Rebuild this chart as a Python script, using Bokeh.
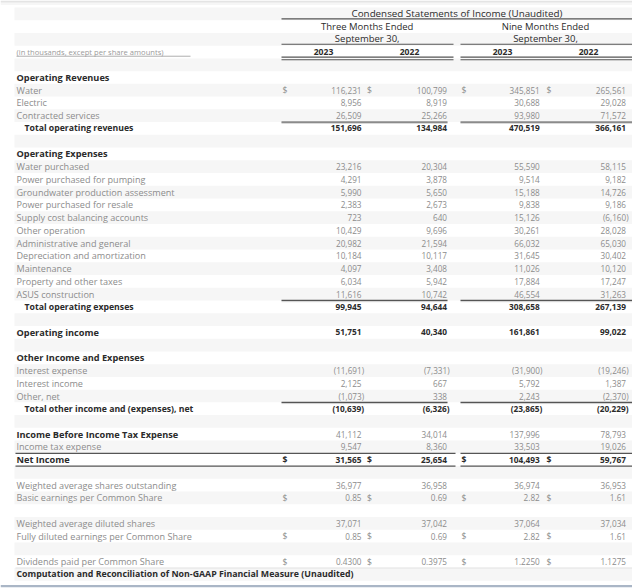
from bokeh.plotting import figure
from bokeh.models import Range1d, ColumnDataSource
from bokeh.embed import file_html
from bokeh.resources import INLINE
from bokeh.core.properties import value

# ---------------- data ----------------
title = "Condensed Statements of Income (Unaudited)"
group_titles = ["Three Months Ended", "Nine Months Ended"]
group_sub = "September 30,"
year_labels = ["2023", "2022", "2023", "2022"]
units_note = "(in thousands, except per share amounts)"

labels = [
    "Operating Revenues", "Water", "Electric", "Contracted services", "Total operating revenues", "",
    "Operating Expenses", "Water purchased", "Power purchased for pumping",
    "Groundwater production assessment", "Power purchased for resale", "Supply cost balancing accounts",
    "Other operation", "Administrative and general", "Depreciation and amortization", "Maintenance",
    "Property and other taxes", "ASUS construction", "Total operating expenses", "",
    "Operating income", "",
    "Other Income and Expenses", "Interest expense", "Interest income", "Other, net",
    "Total other income and (expenses), net", "",
    "Income Before Income Tax Expense", "Income tax expense", "Net Income", "",
    "Weighted average shares outstanding", "Basic earnings per Common Share", "",
    "Weighted average diluted shares", "Fully diluted earnings per Common Share", "",
    "Dividends paid per Common Share",
    "Computation and Reconciliation of Non-GAAP Financial Measure (Unaudited)",
]
# row kinds: s=section heading, i=item, t=total, b=blank, o=bold heading with bold values,
#            h=heading with regular values, n=net income, f=footer heading
kinds = ["s", "i", "i", "i", "t", "b",
         "s", "i", "i", "i", "i", "i", "i", "i", "i", "i", "i", "i", "t", "b",
         "o", "b",
         "s", "i", "i", "i", "t", "b",
         "h", "i", "n", "b",
         "i", "i", "b",
         "i", "i", "b",
         "i", "f"]
N = None
q3_2023 = [N, 116231, 8956, 26509, 151696, N,
           N, 23216, 4291, 5990, 2383, 723, 10429, 20982, 10184, 4097, 6034, 11616, 99945, N,
           51751, N,
           N, -11691, 2125, -1073, -10639, N,
           41112, 9547, 31565, N,
           36977, 0.85, N,
           37071, 0.85, N,
           0.4300, N]
q3_2022 = [N, 100799, 8919, 25266, 134984, N,
           N, 20304, 3878, 5650, 2673, 640, 9696, 21594, 10117, 3408, 5942, 10742, 94644, N,
           40340, N,
           N, -7331, 667, 338, -6326, N,
           34014, 8360, 25654, N,
           36958, 0.69, N,
           37042, 0.69, N,
           0.3975, N]
m9_2023 = [N, 345851, 30688, 93980, 470519, N,
           N, 55590, 9514, 15188, 9838, 15126, 30261, 66032, 31645, 11026, 17884, 46554, 308658, N,
           161861, N,
           N, -31900, 5792, 2243, -23865, N,
           137996, 33503, 104493, N,
           36974, 2.82, N,
           37064, 2.82, N,
           1.2250, N]
m9_2022 = [N, 265561, 29028, 71572, 366161, N,
           N, 58115, 9182, 14726, 9186, -6160, 28028, 65030, 30402, 10120, 17247, 31263, 267139, N,
           99022, N,
           N, -19246, 1387, -2370, -20229, N,
           78793, 19026, 59767, N,
           36953, 1.61, N,
           37034, 1.61, N,
           1.1275, N]
decimals = [0] * 33 + [2, 0, 0, 2, 0, 4, 0]
dollar_rows = [1, 30, 33, 36, 38]
rule_after = [3, 17, 25, 29, 30, 38]

# ---------------- layout / style ----------------
ROW0 = 77.0
PITCH = 12.74
X0, X1 = 0, 632
Y0, Y1 = 0, 588
LABEL_X, TOTAL_X = 16, 24
VAL_RIGHT = [361, 446.5, 539.3, 625.5]
DOLLAR_X = [282, 366.5, 461, 546]
SEGS = [(281, 447), (460, 632)]
HEAD_SEGS = [(281, 453), (460, 632)]
YEAR_CX = [323, 409, 502, 588]
GROUP_CX = [366.7, 545]
STRIPE = "#f6f6f6"
GREY_TXT = "#8c8c8c"
DARK_TXT = "#2b2b2b"
FONT = "Open Sans"
LABEL_SIZE = {"s": "9.2px", "o": "9.2px", "h": "9.2px", "n": "9.2px", "t": "8.7px",
              "f": "8.8px", "i": "9.1px"}


def ry(i):
    return ROW0 + PITCH * i


def fmt(v, d):
    if v is None:
        return ""
    s = f"{abs(v):,.{d}f}"
    return f"({s})" if v < 0 else s


p = figure(width=X1 - X0, height=Y1 - Y0, x_range=Range1d(X0, X1), y_range=Range1d(Y1, Y0),
           output_backend="svg", toolbar_location=None, min_border=0)
p.axis.visible = False
p.grid.visible = False
p.outline_line_color = None
p.background_fill_color = "white"
p.border_fill_color = "white"

# top page shadow and bottom frame band
p.quad(left=[0, 0, 0], right=[632] * 3, top=[0, 1.5, 3], bottom=[1.5, 3, 4.5],
       fill_color=["#e4e4e4", "#eeeeee", "#f6f6f6"], line_color=None)
p.quad(left=[0, 0], right=[632, 632], top=[584.5, 586.5], bottom=[586.5, 588],
       fill_color=["#aab6c6", "#e9edf2"], line_color=None)

# stripes
rows_all = list(range(-5, len(labels)))
odd = [i for i in rows_all if i % 2 != 0]
p.quad(left=[14] * len(odd), right=[632] * len(odd),
       top=[ry(i) - PITCH / 2 for i in odd], bottom=[ry(i) + PITCH / 2 for i in odd],
       fill_color=STRIPE, line_color=None)

# header texts
p.text(x=[(HEAD_SEGS[0][0] + HEAD_SEGS[1][1]) / 2], y=[ry(-5) - 0.3], text=[title],
       text_font=value(FONT), text_font_size="9.8px", text_color=DARK_TXT,
       text_align="center", text_baseline="middle")
p.text(x=GROUP_CX, y=[ry(-4) - 0.3] * 2, text=group_titles,
       text_font=value(FONT), text_font_size="9.5px", text_color=DARK_TXT,
       text_align="center", text_baseline="middle")
p.text(x=GROUP_CX, y=[ry(-3) - 1.0] * 2, text=[group_sub] * 2,
       text_font=value(FONT), text_font_size="9.5px", text_color=DARK_TXT,
       text_align="center", text_baseline="middle")
p.text(x=YEAR_CX, y=[ry(-2)] * 4, text=year_labels,
       text_font=value(FONT), text_font_size="8.6px", text_color=DARK_TXT,
       text_align="center", text_baseline="middle", text_font_style="bold")
p.text(x=[LABEL_X], y=[ry(-2)], text=[units_note],
       text_font=value(FONT), text_font_size="7.6px", text_color="#9a9a9a",
       text_align="left", text_baseline="middle")
p.segment(x0=[LABEL_X], x1=[190], y0=[ry(-2) + 4.2], y1=[ry(-2) + 4.2],
          line_color="#9a9a9a", line_width=0.8)

# header rules
p.segment(x0=[HEAD_SEGS[0][0]], x1=[HEAD_SEGS[1][1]], y0=[18.4], y1=[18.4],
          line_color="#555555", line_width=1.1)
p.segment(x0=[a for a, b in HEAD_SEGS], x1=[b for a, b in HEAD_SEGS],
          y0=[43.8] * 2, y1=[43.8] * 2, line_color="#555555", line_width=1.1)
p.segment(x0=[a for a, b in HEAD_SEGS] * 2, x1=[b for a, b in HEAD_SEGS] * 2,
          y0=[56.6] * 2 + [59.2] * 2, y1=[56.6] * 2 + [59.2] * 2,
          line_color="#555555", line_width=1.1)

# labels
lab_src = {"x": [], "y": [], "t": [], "c": [], "st": [], "fs": []}
for i, (lab, k) in enumerate(zip(labels, kinds)):
    if k == "b":
        continue
    lab_src["x"].append(TOTAL_X if k == "t" else LABEL_X)
    lab_src["y"].append(ry(i))
    lab_src["t"].append(lab)
    bold = k != "i"
    lab_src["c"].append(DARK_TXT if bold else GREY_TXT)
    lab_src["st"].append("bold" if bold else "normal")
    lab_src["fs"].append(LABEL_SIZE[k])
p.text(x="x", y="y", text="t", text_color="c", text_font_style="st", text_font_size="fs",
       source=ColumnDataSource(lab_src), text_font=value(FONT),
       text_align="left", text_baseline="middle")

# values
cols = [q3_2023, q3_2022, m9_2023, m9_2022]
val_src = {"x": [], "y": [], "t": [], "c": [], "st": [], "fs": []}
for ci, col in enumerate(cols):
    for i, v in enumerate(col):
        if v is None:
            continue
        k = kinds[i]
        bold = k in ("t", "o", "n")
        val_src["x"].append(VAL_RIGHT[ci] + (2.6 if v < 0 else 0))
        val_src["y"].append(ry(i))
        val_src["t"].append(fmt(v, decimals[i]))
        val_src["c"].append(DARK_TXT if bold else GREY_TXT)
        val_src["st"].append("bold" if bold else "normal")
        val_src["fs"].append("8.3px" if bold else "8.2px")
p.text(x="x", y="y", text="t", text_color="c", text_font_style="st", text_font_size="fs",
       source=ColumnDataSource(val_src), text_font=value(FONT),
       text_align="right", text_baseline="middle")

# dollar signs
d_src = {"x": [], "y": [], "c": [], "st": []}
for i in dollar_rows:
    for dx in DOLLAR_X:
        bold = kinds[i] == "n"
        d_src["x"].append(dx)
        d_src["y"].append(ry(i))
        d_src["c"].append(DARK_TXT if bold else GREY_TXT)
        d_src["st"].append("bold" if bold else "normal")
d_src["t"] = ["$"] * len(d_src["x"])
p.text(x="x", y="y", text="t", text_color="c", text_font_style="st",
       source=ColumnDataSource(d_src), text_font=value(FONT), text_font_size="8.6px",
       text_align="left", text_baseline="middle")

# rules under rows
for r in rule_after:
    yb = ry(r + 0.5)
    if r in (29, 30):
        xs0, xs1 = [15, SEGS[1][0]], [455, SEGS[1][1]]
        p.segment(x0=xs0, x1=xs1, y0=[yb] * 2, y1=[yb] * 2, line_color="#555555", line_width=1.3)
    elif r == 38:
        p.segment(x0=[15], x1=[632], y0=[yb], y1=[yb], line_color="#e2e2e2", line_width=1)
    else:
        xs0, xs1 = [a for a, b in SEGS], [b for a, b in SEGS]
        p.segment(x0=xs0, x1=xs1, y0=[yb] * 2, y1=[yb] * 2, line_color="#555555", line_width=1.2)
        p.segment(x0=xs0, x1=xs1, y0=[yb + 1.2] * 2, y1=[yb + 1.2] * 2,
                  line_color="#c4c4c4", line_width=0.8)

open("out.html", "w").write(file_html(p, INLINE))
